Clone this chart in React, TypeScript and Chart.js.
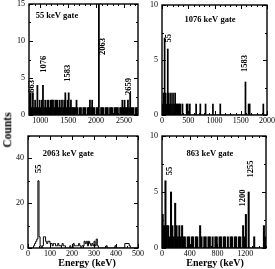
import React, { useEffect, useRef } from "react";
import { Chart, registerables } from "chart.js";
Chart.register(...registerables);

const FONT = "'Liberation Serif', 'Times New Roman', serif";

// ---------- data ----------
// 55 keV gate: 20 keV bins starting at 800 keV
const gate55Start = 800;
const gate55Width = 20;
const gate55Counts = [
  3, 3, 1, 3, 1, 2, 1, 4, 1, 2,
  1, 2, 4, 1, 2,
  1, 2, 2, 1, 2, 2, 2, 1, 2, 2, 2, 1, 2, 1, 2,
  1, 2, 3, 1, 2, 3, 1, 2, 1, 1,
  1, 1, 2, 1, 0, 1, 1, 0, 1, 1, 1, 0, 1, 1, 2, 1, 2, 1, 1, 0, 1, 1,
  16,
  0, 1, 1, 1, 0, 1, 1, 1, 0, 1, 1, 1, 0, 1, 1, 1, 1, 0, 1, 1,
  2, 1, 2, 1, 1, 2, 1, 3, 1, 1, 1, 0, 1, 1, 0,
];

// 1076 keV gate: 20 keV bins starting at 0
const gate1076Start = 0;
const gate1076Width = 20;
const gate1076Counts = [
  1, 2, 7, 2, 1, 6, 2, 1, 2, 1, 2, 1, 2, 1, 1, 1, 1, 1, 0, 1,
  0, 0, 0, 1, 1, 0, 1, 0, 0, 0, 0, 0, 1, 0, 0, 0, 1, 0, 0, 0,
  0, 1, 0, 0, 0, 0, 0, 0, 1, 0, 0, 0, 0, 0, 0, 1, 0, 0, 0, 0,
  0, 0, 0, 0, 0, 0, 0, 0, 0, 0, 0, 0, 0, 0, 0, 0, 0, 0, 0, 3,
  0, 0, 1, 1, 0, 0, 0, 0, 0, 0, 0, 0, 0, 0, 0, 0, 1, 0, 0, 0,
];

// 2063 keV gate: 5 keV bins starting at 0
const gate2063Start = 0;
const gate2063Width = 5;
const gate2063Counts = [
  0, 0, 0, 0, 0, 0, 1, 2, 3, 4,
  30, 5, 1, 0, 1, 5, 5, 3, 2, 3,
  3, 2, 2, 1, 2, 2, 1, 1, 2, 1,
  1, 1, 2, 1, 1, 0, 0, 0, 0, 1,
  0, 0, 2, 1, 1, 1, 1, 2, 1, 0,
  1, 1, 3, 2, 3, 1, 3, 2, 1, 2,
  1, 3, 1, 4, 1, 0, 0, 0, 0, 0,
  0, 0, 1, 0, 0, 0, 0, 0, 0, 0,
  1, 0, 0, 0, 0, 0, 0, 0, 0, 2,
  2, 2, 2, 1, 0, 0, 0, 0, 0, 0,
];

// 863 keV gate: 20 keV bins starting at 0
const gate863Start = 0;
const gate863Width = 20;
const gate863Counts = [
  3, 2, 6, 2, 2, 1, 5, 2, 1, 4,
  2, 1, 2, 1, 2, 1, 1, 0, 1, 1,
  0, 1, 1, 0, 1, 1, 0, 2, 1, 0,
  1, 1, 0, 1, 1, 0, 1, 0, 1, 1,
  0, 1, 1, 0, 1, 1, 0, 1, 0, 1,
  1, 0, 1, 1, 0, 1, 1, 0, 2, 1,
  3, 0, 5, 0, 0, 0, 1, 0, 0, 0,
  0, 0, 0, 2, 1,
];

// tick labels
const p1XTicks = [1000, 1500, 2000, 2500];
const p1YTicks = [0, 5, 10, 15];
const p2XTicks = [0, 500, 1000, 1500, 2000];
const p2YTicks = [0, 5, 10];
const p3XTicks = [0, 100, 200, 300, 400, 500];
const p3YTicks = [0, 20, 40];
const p4XTicks = [0, 400, 800, 1200];
const p4YTicks = [0, 5, 10];

// annotations (data coordinates)
type Ann = { text: string; x: number; y: number; rot?: boolean };
const p1Anns: Ann[] = [
  { text: "55 keV gate", x: 1300, y: 13.4 },
  { text: "863", x: 855, y: 3.0, rot: true },
  { text: "1076", x: 1056, y: 5.7, rot: true },
  { text: "1583", x: 1503, y: 4.5, rot: true },
  { text: "2063", x: 2115, y: 8.1, rot: true },
  { text: "2659", x: 2577, y: 2.7, rot: true },
];
const p2Anns: Ann[] = [
  { text: "1076 keV gate", x: 914, y: 8.7 },
  { text: "55", x: 125, y: 6.6, rot: true },
  { text: "1583", x: 1581, y: 3.9, rot: true },
];
const p3Anns: Ann[] = [
  { text: "2063 keV gate", x: 183, y: 42 },
  { text: "55", x: 51, y: 33.5, rot: true },
];
const p4Anns: Ann[] = [
  { text: "863 keV gate", x: 692, y: 8.4 },
  { text: "55", x: 113, y: 6.5, rot: true },
  { text: "1200", x: 1165, y: 3.7, rot: true },
  { text: "1255", x: 1285, y: 6.3, rot: true },
];

// ---------- layout ----------
const YW = 26;
const TP = 6;
const RP = 12;
const XH = 16;

type Rect = { l: number; t: number; r: number; b: number };
type Spec = {
  kind: "bar" | "step";
  start: number;
  width: number;
  counts: number[];
  xMin: number;
  xMax: number;
  yMax: number;
  xTicks: number[];
  yTicks: number[];
  xMinor: number;
  yMinor: number;
  anns: Ann[];
  rect: Rect;
};

const specs: Spec[] = [
  {
    kind: "bar", start: gate55Start, width: gate55Width, counts: gate55Counts,
    xMin: 800, xMax: 2750, yMax: 15, xTicks: p1XTicks, yTicks: p1YTicks,
    xMinor: 100, yMinor: 2.5, anns: p1Anns, rect: { l: 29, t: 4, r: 138, b: 115 },
  },
  {
    kind: "bar", start: gate1076Start, width: gate1076Width, counts: gate1076Counts,
    xMin: 0, xMax: 2000, yMax: 10, xTicks: p2XTicks, yTicks: p2YTicks,
    xMinor: 100, yMinor: 2.5, anns: p2Anns, rect: { l: 162, t: 5, r: 267, b: 115 },
  },
  {
    kind: "step", start: gate2063Start, width: gate2063Width, counts: gate2063Counts,
    xMin: 0, xMax: 500, yMax: 50, xTicks: p3XTicks, yTicks: p3YTicks,
    xMinor: 50, yMinor: 10, anns: p3Anns, rect: { l: 28, t: 136, r: 138, b: 248 },
  },
  {
    kind: "bar", start: gate863Start, width: gate863Width, counts: gate863Counts,
    xMin: 0, xMax: 1500, yMax: 10, xTicks: p4XTicks, yTicks: p4YTicks,
    xMinor: 100, yMinor: 2.5, anns: p4Anns, rect: { l: 162, t: 136, r: 266, b: 248 },
  },
];

function makeFramePlugin(spec: Spec) {
  return {
    id: "frameTicks",
    afterDatasetsDraw(chart: any) {
      const { ctx, chartArea } = chart;
      const xs = chart.scales.x;
      const ys = chart.scales.y;
      const { left, right, top, bottom } = chartArea;
      ctx.save();
      ctx.strokeStyle = "#000";
      ctx.lineWidth = 1.4;
      ctx.strokeRect(left, top, right - left, bottom - top);
      ctx.lineWidth = 1;
      const MAJ = 4;
      const MIN = 2;
      const isMajor = (v: number, arr: number[]) => arr.some((a) => Math.abs(a - v) < 1e-6);
      ctx.beginPath();
      for (let v = Math.ceil(spec.xMin / spec.xMinor) * spec.xMinor; v <= spec.xMax + 1e-6; v += spec.xMinor) {
        const px = Math.round(xs.getPixelForValue(v)) + 0.5;
        const len = isMajor(v, spec.xTicks) ? MAJ : MIN;
        ctx.moveTo(px, bottom);
        ctx.lineTo(px, bottom - len);
        ctx.moveTo(px, top);
        ctx.lineTo(px, top + len);
      }
      for (let v = 0; v <= spec.yMax + 1e-6; v += spec.yMinor) {
        const py = Math.round(ys.getPixelForValue(v)) + 0.5;
        const len = isMajor(v, spec.yTicks) ? MAJ : MIN;
        ctx.moveTo(left, py);
        ctx.lineTo(left + len, py);
        ctx.moveTo(right, py);
        ctx.lineTo(right - len, py);
      }
      ctx.stroke();

      ctx.fillStyle = "#000";
      ctx.font = `bold 8.5px ${FONT}`;
      for (const a of spec.anns) {
        const px = xs.getPixelForValue(a.x);
        const py = ys.getPixelForValue(a.y);
        if (a.rot) {
          ctx.save();
          ctx.translate(px, py);
          ctx.rotate(-Math.PI / 2);
          ctx.textAlign = "left";
          ctx.textBaseline = "middle";
          ctx.fillText(a.text, 0, 0);
          ctx.restore();
        } else {
          ctx.textAlign = "center";
          ctx.textBaseline = "middle";
          ctx.fillText(a.text, px, py);
        }
      }
      ctx.restore();
    },
  };
}

function buildConfig(spec: Spec): any {
  let data: { x: number; y: number }[];
  if (spec.kind === "bar") {
    data = spec.counts.map((c, i) => ({ x: spec.start + (i + 0.5) * spec.width, y: c }));
  } else {
    data = spec.counts.map((c, i) => ({ x: spec.start + i * spec.width, y: c }));
    data.push({ x: spec.start + spec.counts.length * spec.width, y: spec.counts[spec.counts.length - 1] });
  }
  const tickFont = { family: FONT, size: 8 };
  const fmt = (v: any) => String(v);
  return {
    type: spec.kind === "bar" ? "bar" : "line",
    data: {
      datasets: [
        {
          data,
          backgroundColor: "#000",
          borderColor: "#000",
          borderWidth: spec.kind === "bar" ? 0 : 1,
          barPercentage: 1,
          categoryPercentage: 1,
          stepped: spec.kind === "step" ? "after" : false,
          pointRadius: 0,
          fill: false,
        },
      ],
    },
    options: {
      responsive: false,
      maintainAspectRatio: false,
      animation: false,
      layout: { padding: { top: TP, right: RP, left: 0, bottom: 0 } },
      plugins: { legend: { display: false }, tooltip: { enabled: false } },
      scales: {
        x: {
          type: "linear",
          min: spec.xMin,
          max: spec.xMax,
          offset: false,
          grid: { display: false, drawTicks: false, offset: false },
          border: { display: false },
          ticks: { font: tickFont, color: "#000", padding: 1, autoSkip: false, maxRotation: 0, callback: fmt },
          afterBuildTicks: (s: any) => {
            s.ticks = spec.xTicks.map((v) => ({ value: v }));
          },
          afterFit: (s: any) => {
            s.height = XH;
            s.paddingLeft = 0;
            s.paddingRight = 0;
          },
        },
        y: {
          type: "linear",
          min: 0,
          max: spec.yMax,
          grid: { display: false, drawTicks: false },
          border: { display: false },
          ticks: { font: tickFont, color: "#000", padding: 4, callback: fmt },
          afterBuildTicks: (s: any) => {
            s.ticks = spec.yTicks.map((v) => ({ value: v }));
          },
          afterFit: (s: any) => {
            s.width = YW;
            s.paddingTop = 0;
            s.paddingBottom = 0;
          },
        },
      },
    },
    plugins: [makeFramePlugin(spec)],
  };
}

function Panel({ spec }: { spec: Spec }) {
  const ref = useRef<HTMLCanvasElement>(null);
  useEffect(() => {
    const chart = new Chart(ref.current as HTMLCanvasElement, buildConfig(spec));
    return () => chart.destroy();
  }, [spec]);
  const { l, t, r, b } = spec.rect;
  const w = YW + (r - l) + RP;
  const h = TP + (b - t) + XH;
  return (
    <canvas
      ref={ref}
      width={w}
      height={h}
      style={{ position: "absolute", left: l - YW, top: t - TP, width: w, height: h }}
    />
  );
}

const labelStyle: React.CSSProperties = {
  position: "absolute",
  fontFamily: FONT,
  fontWeight: "bold",
  whiteSpace: "nowrap",
  color: "#000",
  lineHeight: 1,
};

export default function App() {
  return (
    <div
      style={{
        position: "fixed",
        left: 0,
        top: 0,
        width: 275,
        height: 269,
        overflow: "hidden",
        background: "#fff",
      }}
    >
      {specs.map((s, i) => (
        <Panel key={i} spec={s} />
      ))}
      <div
        style={{
          ...labelStyle,
          fontSize: 11.5,
          left: 8,
          top: 130,
          transform: "translate(-50%, -50%) rotate(-90deg)",
        }}
      >
        Counts
      </div>
      <div style={{ ...labelStyle, fontSize: 10, left: 87, top: 263, transform: "translate(-50%, -50%)" }}>
        Energy (keV)
      </div>
      <div style={{ ...labelStyle, fontSize: 10, left: 215, top: 263, transform: "translate(-50%, -50%)" }}>
        Energy (keV)
      </div>
    </div>
  );
}
